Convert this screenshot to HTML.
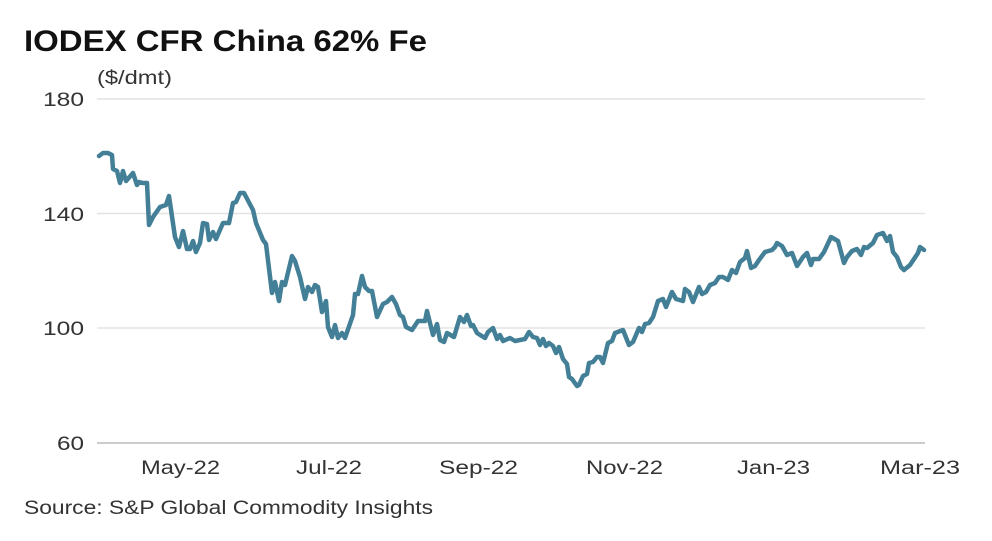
<!DOCTYPE html>
<html><head><meta charset="utf-8"><style>
body{margin:0;background:#fff;width:992px;height:536px;overflow:hidden;font-family:"Liberation Sans",sans-serif;}
</style></head><body>
<svg width="992" height="536" xmlns="http://www.w3.org/2000/svg" font-family="Liberation Sans, sans-serif">
<text x="24" y="51" font-size="30" font-weight="bold" fill="#111" textLength="403" lengthAdjust="spacingAndGlyphs">IODEX CFR China 62% Fe</text>
<text x="97" y="84" font-size="19" fill="#333" textLength="75" lengthAdjust="spacingAndGlyphs">($/dmt)</text>
<g stroke="#e3e3e3" stroke-width="1.5">
<line x1="97" y1="99" x2="925" y2="99"/>
<line x1="97" y1="213.5" x2="925" y2="213.5"/>
<line x1="97" y1="328" x2="925" y2="328"/>
</g>
<line x1="97" y1="443" x2="925" y2="443" stroke="#bbb" stroke-width="1.5"/>
<g font-size="19" fill="#333">
<text x="43" y="106" textLength="41" lengthAdjust="spacingAndGlyphs">180</text>
<text x="43" y="221" textLength="41" lengthAdjust="spacingAndGlyphs">140</text>
<text x="43" y="335" textLength="41" lengthAdjust="spacingAndGlyphs">100</text>
<text x="57" y="450" textLength="27" lengthAdjust="spacingAndGlyphs">60</text>
</g>
<g font-size="19" fill="#333">
<text x="141" y="474" textLength="79" lengthAdjust="spacingAndGlyphs">May-22</text>
<text x="296" y="474" textLength="66" lengthAdjust="spacingAndGlyphs">Jul-22</text>
<text x="439" y="474" textLength="79" lengthAdjust="spacingAndGlyphs">Sep-22</text>
<text x="586" y="474" textLength="77" lengthAdjust="spacingAndGlyphs">Nov-22</text>
<text x="737" y="474" textLength="73" lengthAdjust="spacingAndGlyphs">Jan-23</text>
<text x="880" y="474" textLength="80" lengthAdjust="spacingAndGlyphs">Mar-23</text>
</g>
<text x="24" y="514" font-size="19" fill="#333" textLength="409" lengthAdjust="spacingAndGlyphs">Source: S&amp;P Global Commodity Insights</text>
<polyline fill="none" stroke="#437f96" stroke-width="4.5" stroke-linejoin="round" stroke-linecap="round" points="99,156 103,153 108,153 112,155 113,169 117,171 120,183 123,171 126,181 133,173 137,185 139,182 143,183 147,183 149,225 153,217 160,207 166,205 169,196 175,237 179,247 183,231 187,249 190,249 193,241 196,252 200,243 203,223 207,224 209,240 213,232 216,239 223,223 229,223 233,203 236,202 240,193 244,193 253,210 256,223 263,240 266,244 272,293 275,282 279,301 282,282 285,285 292,256 295,261 300,277 305,299 308,287 312,292 315,285 318,287 322,312 326,301 328,327 332,337 335,325 338,338 342,333 345,338 353,315 355,294 358,294 362,276 365,287 369,291 372,291 377,317 383,304 387,302 392,297 396,304 400,315 403,317 406,327 412,330 418,321 425,321 427,311 433,335 437,324 440,340 444,342 447,333 454,337 460,317 464,322 467,315 471,326 473,325 477,333 485,338 488,332 493,328 497,339 500,335 503,341 510,338 515,341 525,339 529,332 533,337 537,338 540,345 543,339 546,346 549,343 553,346 556,353 559,347 563,359 567,364 569,377 572,379 577,386 579,385 583,376 587,374 589,363 593,362 597,357 600,357 603,363 608,343 612,341 615,333 623,330 629,345 633,342 639,328 642,332 645,324 649,323 653,317 658,301 663,299 666,307 672,292 676,299 683,301 685,289 689,292 693,302 699,287 702,294 706,292 710,285 715,283 719,277 723,277 728,280 732,270 736,273 740,262 745,258 747,251 751,268 755,266 759,260 765,252 772,250 775,247 777,243 782,246 787,255 792,253 797,266 803,257 807,253 811,265 813,259 819,259 824,252 831,237 838,241 844,263 847,257 852,251 857,249 861,255 864,247 867,248 873,243 877,235 883,233 887,241 890,236 893,252 897,257 901,267 904,270 910,265 914,259 918,253 920,247 924,250"/>
</svg>
</body></html>
